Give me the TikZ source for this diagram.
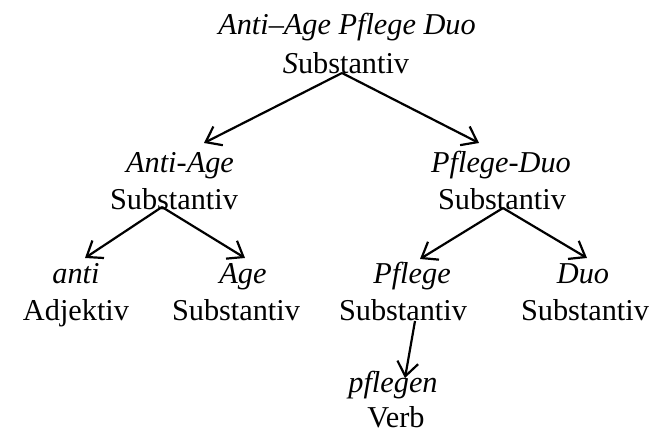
\documentclass[tikz,border=0pt]{standalone}
\usepackage{fontspec}
\setmainfont{Liberation Serif}
\usetikzlibrary{arrows.meta}
\begin{document}
\begin{tikzpicture}[x=1pt,y=-1pt,
  lbl/.style={inner sep=0pt,anchor=base,font=\fontsize{30.3}{39}\selectfont},
  wd/.style={lbl,font=\fontsize{30.3}{39}\selectfont\itshape},
  arr/.style={line width=2.2pt,-{Straight Barb[length=14pt,width=21pt,line width=2.2pt]}}]
\useasboundingbox (0,0) rectangle (661,435);
\node[wd]  (top1) at (347,35) {Anti–Age Pflege Duo};
\node[lbl] (top2) at (346,74) {\textit{S}ubstantiv};
\node[wd]  (aa1) at (180,173) {Anti-Age};
\node[lbl] (aa2) at (174,210) {Substantiv};
\node[wd]  (pd1) at (501,173) {Pflege-Duo};
\node[lbl] (pd2) at (502,210) {Substantiv};
\node[wd]  (an1) at (76,284) {anti};
\node[lbl] (an2) at (76,321) {Adjektiv};
\node[wd]  (ag1) at (243,284) {Age};
\node[lbl] (ag2) at (236,321) {Substantiv};
\node[wd]  (pf1) at (412,284) {Pflege};
\node[lbl] (pf2) at (403,321) {Substantiv};
\node[wd]  (du1) at (583,284) {Duo};
\node[lbl] (du2) at (585,321) {Substantiv};
\node[wd]  (pg1) at (393,392) {pflegen};
\node[lbl] (pg2) at (396,427) {Verb};
\draw[arr] ([xshift=-4pt,yshift=1pt]top2.base) -- ([xshift=24pt,yshift=30pt]aa1.base);
\draw[arr] ([xshift=-4pt,yshift=1pt]top2.base) -- ([xshift=-22pt,yshift=30pt]pd1.base);
\draw[arr] ([xshift=-12pt,yshift=3pt]aa2.base) -- ([xshift=9pt,yshift=26pt]an1.base);
\draw[arr] ([xshift=-12pt,yshift=3pt]aa2.base) -- ([xshift=2pt,yshift=26pt]ag1.base);
\draw[arr] ([xshift=1pt,yshift=2pt]pd2.base) -- ([xshift=8pt,yshift=25pt]pf1.base);
\draw[arr] ([xshift=1pt,yshift=2pt]pd2.base) -- ([xshift=4pt,yshift=26pt]du1.base);
\draw[arr] ([xshift=12pt]pf2.base) -- ([xshift=12pt,yshift=14pt]pg1.base);
\end{tikzpicture}
\end{document}
